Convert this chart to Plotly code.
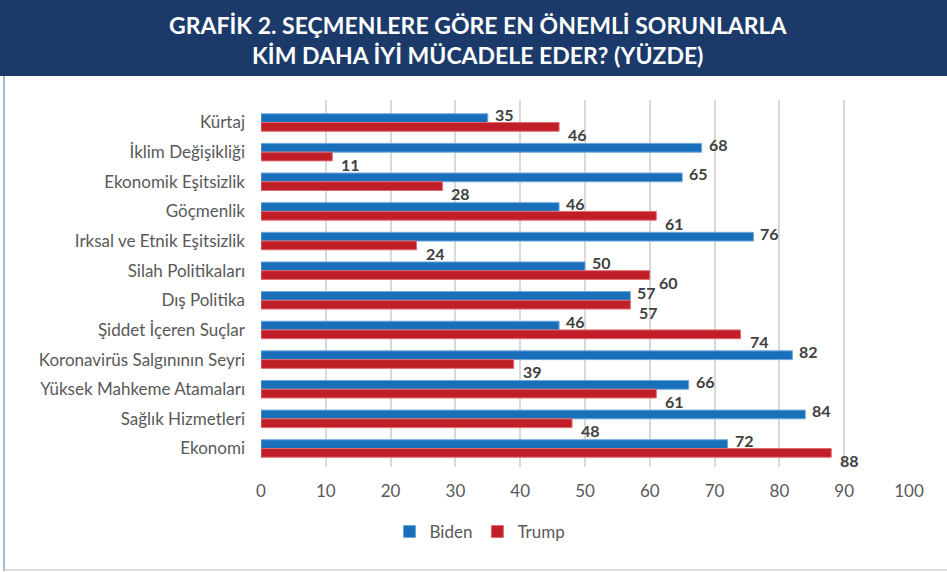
import plotly.graph_objects as go

categories = ["Kürtaj", "İklim Değişikliği", "Ekonomik Eşitsizlik", "Göçmenlik",
              "Irksal ve Etnik Eşitsizlik", "Silah Politikaları", "Dış Politika",
              "Şiddet İçeren Suçlar", "Koronavirüs Salgınının Seyri",
              "Yüksek Mahkeme Atamaları", "Sağlık Hizmetleri", "Ekonomi"]
biden = [35, 68, 65, 46, 76, 50, 57, 46, 82, 66, 84, 72]
trump = [46, 11, 28, 61, 24, 60, 57, 74, 39, 61, 48, 88]
x_ticks = [0, 10, 20, 30, 40, 50, 60, 70, 80, 90, 100]
title_lines = ["GRAFİK 2. SEÇMENLERE GÖRE EN ÖNEMLİ SORUNLARLA",
               "KİM DAHA İYİ MÜCADELE EDER? (YÜZDE)"]

W, H = 947, 572
L, R, T, B = 261, 38, 100, 105
pw, ph = W - L - R, H - T - B

def px_x(x):
    return (x - L) / pw

def px_y(y):
    return (H - B - y) / ph

font_main = "Lato, 'Open Sans', sans-serif"
label_color = "#404040"

fig = go.Figure()
fig.add_trace(go.Bar(
    y=categories, x=biden, name="Biden", orientation="h",
    marker=dict(color="#1a6fba", line=dict(color="#6fa8dc", width=1)),
))
fig.add_trace(go.Bar(
    y=categories, x=trump, name="Trump", orientation="h",
    marker=dict(color="#c01f28", line=dict(color="#e06c72", width=1)),
))

shapes = [
    dict(type="rect", xref="paper", yref="paper",
         x0=px_x(0), x1=px_x(W), y0=px_y(76), y1=px_y(0),
         fillcolor="#1b3a6a", line=dict(width=0), layer="below"),
    dict(type="line", xref="paper", yref="paper",
         x0=px_x(4), x1=px_x(4), y0=px_y(76), y1=px_y(571),
         line=dict(color="#8aa2c4", width=1.5)),
    dict(type="line", xref="paper", yref="paper",
         x0=px_x(4), x1=px_x(947), y0=px_y(570), y1=px_y(570),
         line=dict(color="#d0d0d0", width=1.5)),
]

annotations = [
    dict(xref="paper", yref="paper", x=px_x(478), y=px_y(40),
         text="<b>" + "<br>".join(title_lines) + "</b>",
         showarrow=False, xanchor="center", yanchor="middle",
         font=dict(size=23, color="white", family=font_main)),
]
for cat, v in zip(categories, biden):
    annotations.append(dict(
        x=v, y=cat, xref="x", yref="y", text="<b>%d</b>" % v, showarrow=False,
        xanchor="left", yanchor="middle", xshift=6, yshift=8, borderpad=0,
        font=dict(size=16, color=label_color, family=font_main)))
for cat, v in zip(categories, trump):
    annotations.append(dict(
        x=v, y=cat, xref="x", yref="y", text="<b>%d</b>" % v, showarrow=False,
        xanchor="left", yanchor="middle", xshift=8, yshift=-12, borderpad=0,
        font=dict(size=16, color=label_color, family=font_main)))

fig.update_layout(
    width=W, height=H,
    margin=dict(l=L, r=R, t=T, b=B),
    paper_bgcolor="white", plot_bgcolor="white",
    barmode="group", bargap=0.41, bargroupgap=0.0,
    font=dict(family=font_main, color="#595959", size=17),
    shapes=shapes, annotations=annotations,
    legend=dict(orientation="h", x=px_x(480), y=px_y(532),
                xanchor="center", yanchor="middle",
                font=dict(size=17, color="#595959"),
                itemwidth=30, traceorder="normal"),
    xaxis=dict(range=[0, 100], tickvals=x_ticks, showgrid=True,
               gridcolor="#d9d9d9", gridwidth=1.5, zeroline=False,
               showline=False, ticks="", tickfont=dict(size=17, color="#595959"),
               ticklabelstandoff=12),
    yaxis=dict(categoryorder="array", categoryarray=categories,
               autorange="reversed", showgrid=False, ticks="",
               tickfont=dict(size=17, color="#595959"),
               ticklabelstandoff=15, showline=False),
)

fig.write_html("out.html", config={"displayModeBar": False},
               post_script="document.body.style.margin='0px';")
